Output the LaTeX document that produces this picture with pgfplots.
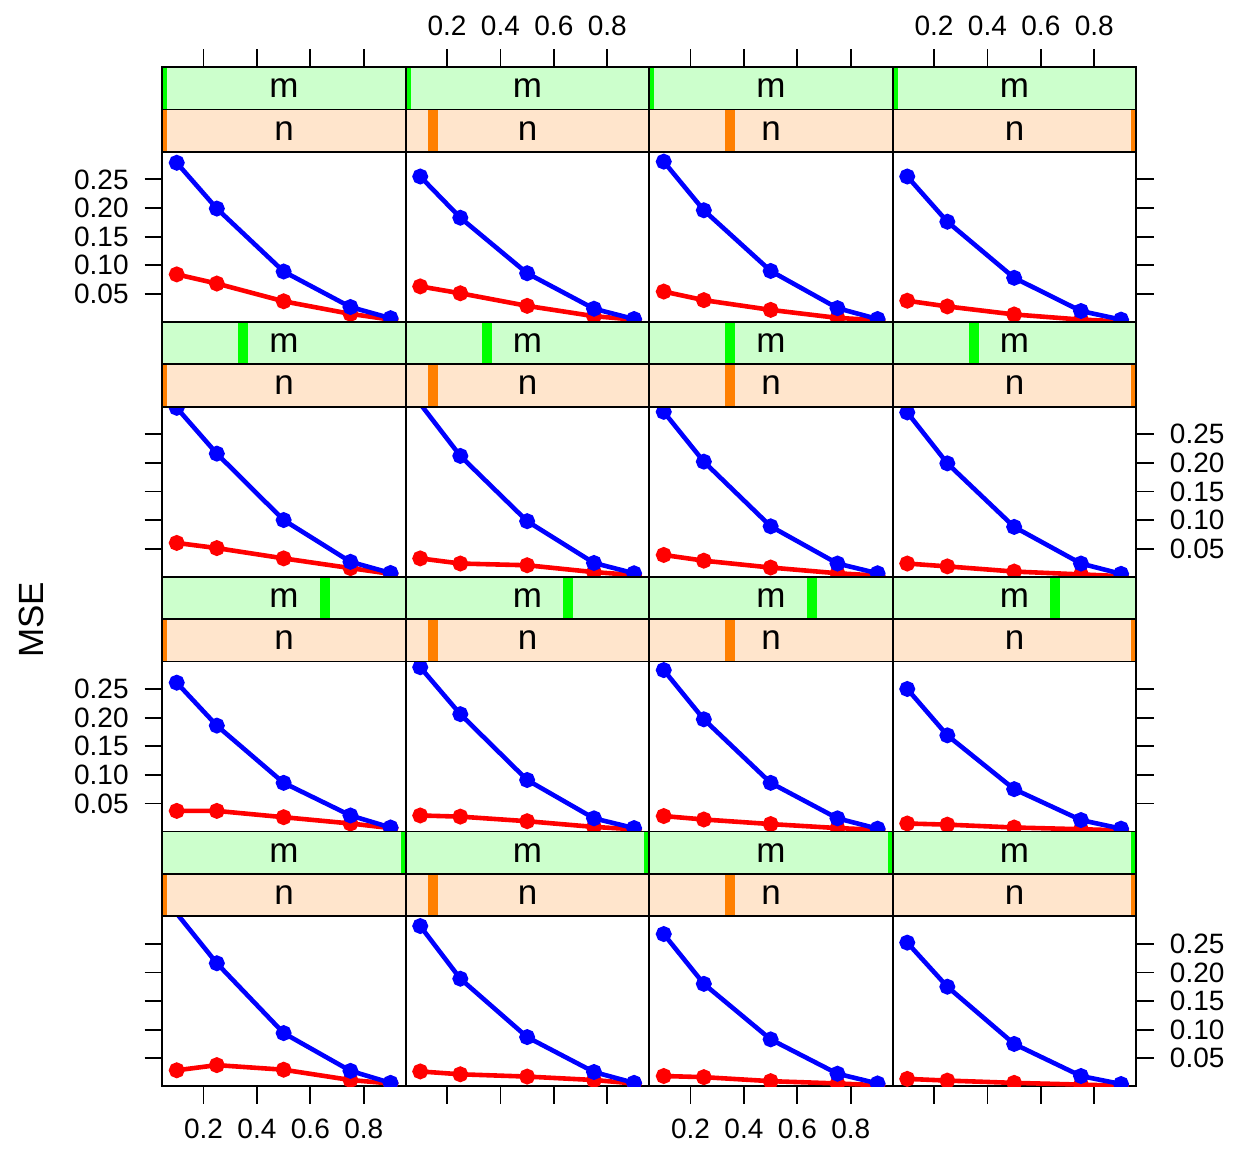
\documentclass[border=0pt]{standalone}
\usepackage{fontspec}
\setmainfont{Liberation Sans}
\usepackage{pgfplots}
\pgfplotsset{compat=1.18}

\definecolor{stripm}{HTML}{CCFFCC}
\definecolor{barm}{HTML}{00FF00}
\definecolor{stripn}{HTML}{FFE5CC}
\definecolor{barn}{HTML}{FF7F00}

\newcommand{\tfs}{\fontsize{14}{16.8}\selectfont}
\newcommand{\sfs}{\fontsize{17.5}{21}\selectfont}

\pgfplotsset{
  /pgf/number format/assume math mode=true,
  panel/.style={
    scale only axis, anchor=south west,
    width=121.75pt, height=85pt,
    xmin=0.046, xmax=0.957, ymin=0.001, ymax=0.298,
    xtick=\empty, ytick=\empty,
    clip marker paths=true,
    axis line style={line width=0.9pt},
    tick align=outside, major tick length=8.8pt,
    every tick/.style={black, line width=0.9pt},
    tick label style={font=\tfs},
    yticklabel style={/pgf/number format/.cd, fixed, fixed zerofill, precision=2},
  },
  ytl/.style={ytick={0.05,0.10,0.15,0.20,0.25}, ytick pos=left, yticklabel shift=4.5pt},
  ytr/.style={ytick={0.05,0.10,0.15,0.20,0.25}, ytick pos=right, yticklabel pos=right, yticklabel shift=4.5pt},
  xt/.style={xtick={0.2,0.4,0.6,0.8}},
  xtb/.style={xt, xtick pos=left, xticklabel shift=4pt},
  blueline/.style={color=blue, line width=2.3pt, mark=*, mark size=2.8pt},
  redline/.style={color=red, line width=2.3pt, mark=*, mark size=2.8pt},
}

% x left, y of panel top, m level (0-1), n level (0-1)
\newcommand{\strips}[4]{%
  \begin{scope}
    \clip (#1pt,#2pt) rectangle ++(121.75pt,42.4pt);
    \fill[stripn] (#1pt,#2pt) rectangle ++(121.75pt,21.2pt);
    \fill[stripm] (#1pt,{(#2+21.2)*1pt}) rectangle ++(121.75pt,21.2pt);
    \fill[barn] ({(#1+#4*121.75-2.5)*1pt},#2pt) rectangle ++(5pt,21.2pt);
    \fill[barm] ({(#1+#3*121.75-2.5)*1pt},{(#2+21.2)*1pt}) rectangle ++(5pt,21.2pt);
  \end{scope}
  \draw[line width=0.9pt] (#1pt,#2pt) rectangle ++(121.75pt,21.2pt);
  \draw[line width=0.9pt] (#1pt,{(#2+21.2)*1pt}) rectangle ++(121.75pt,21.2pt);
  \node[font=\sfs] at ({(#1+60.875)*1pt},{(#2+10.6)*1pt}) {n};
  \node[font=\sfs] at ({(#1+60.875)*1pt},{(#2+31.8)*1pt}) {m};
}

% x left, y bottom, options, blue, red
\newcommand{\panel}[5]{%
  \begin{axis}[panel, at={(#1pt,#2pt)}, #3]
    \addplot[redline] coordinates {#5};
    \addplot[blueline] coordinates {#4};
  \end{axis}
}

% top tick row
\newcommand{\toptick}[2]{%
  \begin{axis}[scale only axis, anchor=south west, at={(#1pt,498.05pt)},
    width=121.75pt, height=42.4pt,
    xmin=0.046, xmax=0.957, ymin=0, ymax=1,
    ytick=\empty, xt, xtick pos=right, xticklabel pos=right,
    xticklabel shift=3.3pt,
    axis line style={draw=none},
    tick align=outside, major tick length=8.8pt,
    every tick/.style={black, line width=0.9pt},
    tick label style={font=\tfs}, #2]
  \end{axis}
}

\begin{document}
\begin{tikzpicture}[font=\tfs]
\useasboundingbox (0,0) rectangle (617pt,574pt);

% row 1
\panel{81.15}{413.05}{ytl}
  {(0.1,0.279) (0.25,0.199) (0.5,0.089) (0.75,0.027) (0.9,0.0075)}
  {(0.1,0.084) (0.25,0.068) (0.5,0.037) (0.75,0.015) (0.9,0.005)}
\panel{202.9}{413.05}{}
  {(0.1,0.255) (0.25,0.183) (0.5,0.086) (0.75,0.024) (0.9,0.006)}
  {(0.1,0.063) (0.25,0.051) (0.5,0.029) (0.75,0.011) (0.9,0.005)}
\panel{324.65}{413.05}{}
  {(0.1,0.281) (0.25,0.196) (0.5,0.090) (0.75,0.025) (0.9,0.006)}
  {(0.1,0.054) (0.25,0.039) (0.5,0.022) (0.75,0.008) (0.9,0.004)}
\panel{446.4}{413.05}{ytr, yticklabels={}}
  {(0.1,0.255) (0.25,0.176) (0.5,0.078) (0.75,0.020) (0.9,0.005)}
  {(0.1,0.038) (0.25,0.028) (0.5,0.014) (0.75,0.005) (0.9,0.002)}

% row 2
\panel{81.15}{285.65}{ytl, yticklabels={}}
  {(0.1,0.296) (0.25,0.216) (0.5,0.100) (0.75,0.027) (0.9,0.0075)}
  {(0.1,0.060) (0.25,0.051) (0.5,0.033) (0.75,0.016) (0.9,0.006)}
\panel{202.9}{285.65}{}
  {(0.1,0.303) (0.25,0.212) (0.5,0.098) (0.75,0.025) (0.9,0.007)}
  {(0.1,0.033) (0.25,0.024) (0.5,0.021) (0.75,0.009) (0.9,0.004)}
\panel{324.65}{285.65}{}
  {(0.1,0.289) (0.25,0.202) (0.5,0.089) (0.75,0.024) (0.9,0.007)}
  {(0.1,0.039) (0.25,0.029) (0.5,0.017) (0.75,0.007) (0.9,0.003)}
\panel{446.4}{285.65}{ytr}
  {(0.1,0.288) (0.25,0.199) (0.5,0.088) (0.75,0.024) (0.9,0.006)}
  {(0.1,0.024) (0.25,0.019) (0.5,0.010) (0.75,0.005) (0.9,0.002)}

% row 3
\panel{81.15}{158.25}{ytl}
  {(0.1,0.261) (0.25,0.186) (0.5,0.086) (0.75,0.029) (0.9,0.008)}
  {(0.1,0.037) (0.25,0.037) (0.5,0.026) (0.75,0.015) (0.9,0.007)}
\panel{202.9}{158.25}{}
  {(0.1,0.288) (0.25,0.206) (0.5,0.091) (0.75,0.024) (0.9,0.007)}
  {(0.1,0.029) (0.25,0.027) (0.5,0.019) (0.75,0.009) (0.9,0.005)}
\panel{324.65}{158.25}{}
  {(0.1,0.283) (0.25,0.197) (0.5,0.086) (0.75,0.024) (0.9,0.006)}
  {(0.1,0.028) (0.25,0.022) (0.5,0.014) (0.75,0.007) (0.9,0.004)}
\panel{446.4}{158.25}{ytr, yticklabels={}}
  {(0.1,0.250) (0.25,0.169) (0.5,0.075) (0.75,0.021) (0.9,0.006)}
  {(0.1,0.015) (0.25,0.013) (0.5,0.008) (0.75,0.005) (0.9,0.003)}

% row 4
\panel{81.15}{30.85}{ytl, yticklabels={}, xtb}
  {(0.1,0.303) (0.25,0.216) (0.5,0.094) (0.75,0.028) (0.9,0.007)}
  {(0.1,0.029) (0.25,0.038) (0.5,0.030) (0.75,0.012) (0.9,0.006)}
\panel{202.9}{30.85}{xtb, xticklabels={}}
  {(0.1,0.281) (0.25,0.189) (0.5,0.087) (0.75,0.026) (0.9,0.007)}
  {(0.1,0.027) (0.25,0.022) (0.5,0.018) (0.75,0.012) (0.9,0.006)}
\panel{324.65}{30.85}{xtb}
  {(0.1,0.267) (0.25,0.180) (0.5,0.083) (0.75,0.023) (0.9,0.006)}
  {(0.1,0.019) (0.25,0.017) (0.5,0.010) (0.75,0.006) (0.9,0.003)}
\panel{446.4}{30.85}{ytr, xtb, xticklabels={}}
  {(0.1,0.252) (0.25,0.175) (0.5,0.075) (0.75,0.019) (0.9,0.005)}
  {(0.1,0.014) (0.25,0.011) (0.5,0.007) (0.75,0.004) (0.9,0.002)}

% top ticks
\toptick{81.15}{xticklabels={}}
\toptick{202.9}{}
\toptick{324.65}{xticklabels={}}
\toptick{446.4}{}

% strips: m level by row, n level by column
\foreach \y/\m in {498.05/0, 370.65/0.3333, 243.25/0.6667, 115.85/1}{
  \foreach \x/\n in {81.15/0, 202.9/0.1111, 324.65/0.3333, 446.4/1}{
    \strips{\x}{\y}{\m}{\n}
  }
}

\node[rotate=90, font=\sfs] at (15.5pt,264pt) {MSE};
\end{tikzpicture}
\end{document}
